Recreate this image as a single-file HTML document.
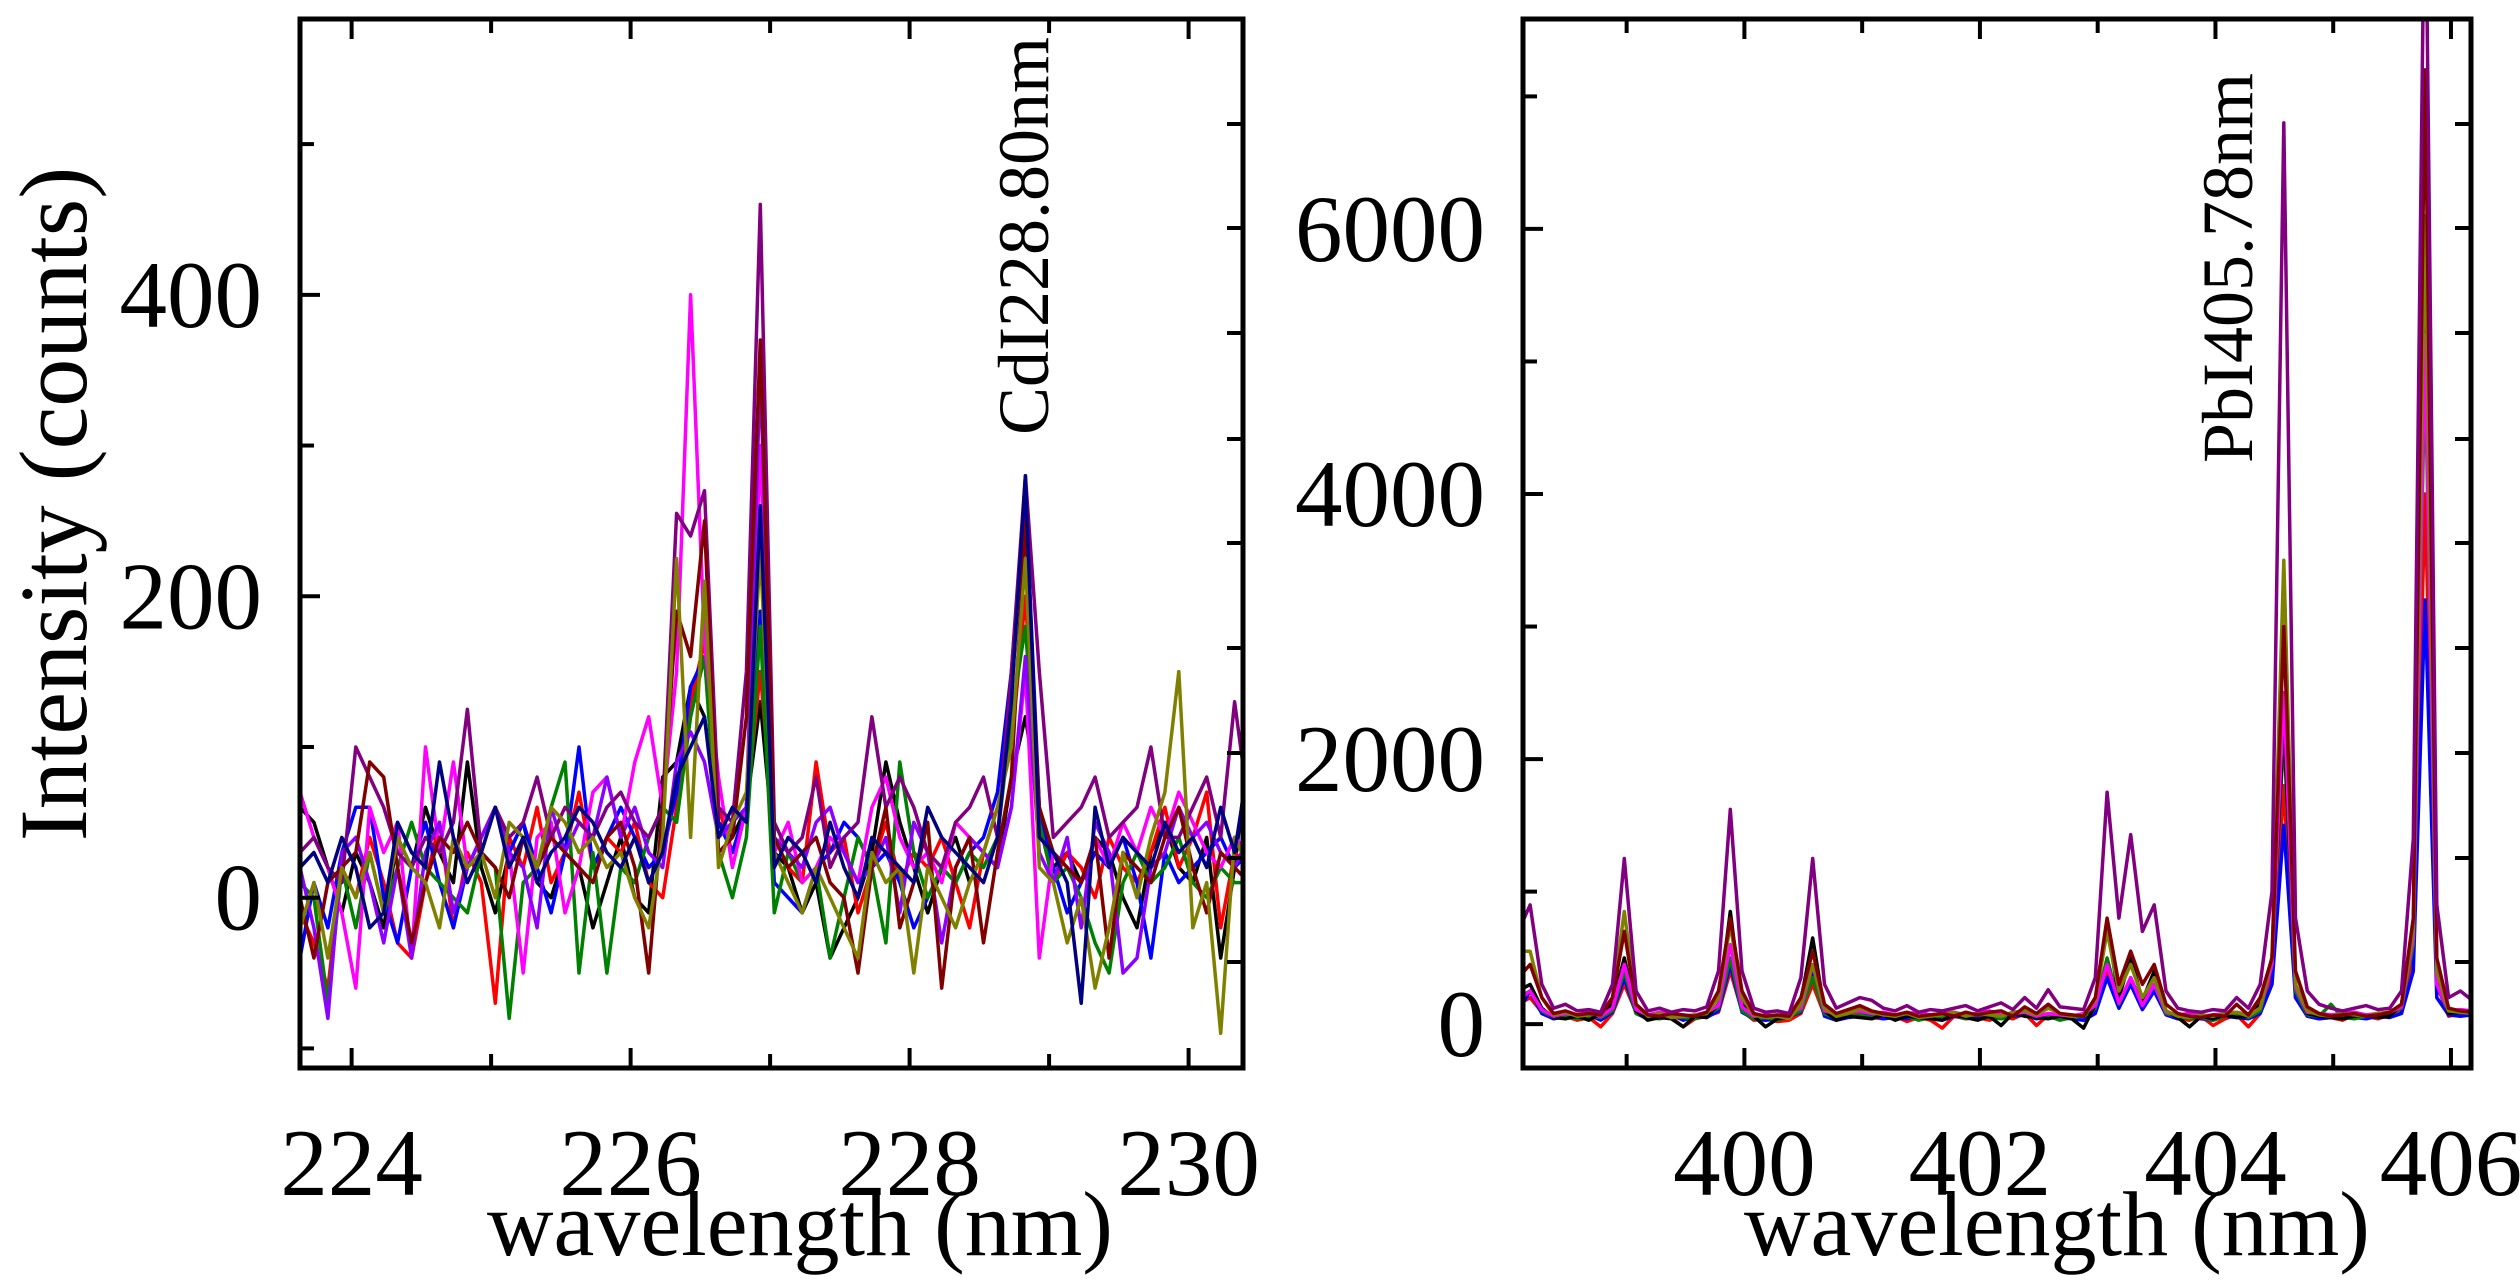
<!DOCTYPE html>
<html><head><meta charset="utf-8"><style>
html,body{margin:0;padding:0;background:#fff}
svg{display:block}
text{font-family:"Liberation Serif",serif;fill:#000}
</style></head><body>
<svg id="chart" width="2520" height="1288" viewBox="0 0 2520 1288"></svg>
<script>
// ---------- Left panel data (Cd region) ----------
const leftXStart = 223.63, leftXStep = 0.1;
const leftXTicks = [224, 226, 228, 230];
const leftYTicks = [0, 200, 400];
const leftColors = ['#000000','#ff0000','#0000ff','#008000','#ff00ff','#8b00ff','#800080','#800000','#808000','#000080'];
const leftBlack  = [60,50,20,-10,30,10,-20,40,20,60,30,10,90,20,-10,30,50,10,0,30,20,-20,10,40,0,-10,80,90,140,120,50,40,60,130,30,20,-10,10,-40,-20,0,30,90,50,20,-10,20,40,10,30,20,80,120,60,20,30,10,40,30,0,-20,30,50,20,10,40,-40,20,100];
const leftRed    = [-10,-30,-60,20,0,40,10,-30,-40,10,50,-20,30,10,-70,40,20,60,10,30,70,20,40,30,50,10,0,60,130,170,60,30,60,150,40,20,10,90,30,40,-10,20,50,10,30,20,40,10,-20,30,60,100,200,50,10,30,20,0,40,20,10,30,60,20,40,70,-20,30,20];
const leftBlue   = [-40,10,-20,30,60,60,0,-30,20,50,10,-20,20,40,60,30,50,20,-10,30,100,20,40,60,40,20,30,70,140,160,50,30,60,190,10,0,-10,20,30,50,40,20,30,10,-20,0,20,10,30,40,70,150,270,60,20,-10,10,30,20,40,10,-40,30,10,20,30,40,20,30];
const leftGreen  = [10,0,-70,20,-20,30,-10,20,50,20,10,0,-10,30,20,-80,10,20,60,90,-50,30,-50,20,10,40,60,50,120,160,30,0,40,180,-10,30,10,20,-40,0,40,20,-30,90,30,0,20,10,30,20,40,120,180,50,10,20,0,-30,-50,10,30,10,20,40,10,0,20,10,10];
const leftMagenta= [70,40,20,-10,-60,60,30,50,-40,100,30,90,20,40,60,30,-50,40,50,-10,20,70,80,40,90,120,60,150,400,170,80,20,60,300,30,50,10,20,40,30,10,60,80,40,20,30,10,50,40,30,20,60,150,-40,30,20,10,40,20,50,30,60,40,70,50,30,20,40,30];
const leftViolet = [20,-20,-80,30,40,10,-30,20,-40,30,50,-10,20,40,60,30,20,-20,60,30,50,40,80,40,60,30,20,90,110,90,40,50,60,350,40,30,20,50,60,30,10,20,40,-10,50,30,-30,20,40,30,20,60,160,30,10,40,-20,50,30,-50,-40,20,30,60,40,50,30,20,40];
const leftPurple = [30,40,20,10,100,80,60,30,20,40,30,50,125,30,60,40,50,80,40,60,50,40,60,70,50,40,60,255,240,270,60,50,150,460,50,30,40,80,20,40,50,120,60,80,60,30,20,50,60,80,40,150,280,150,40,50,60,80,40,50,60,100,40,40,60,80,40,130,60];
const leftMaroon = [0,-40,10,20,30,90,80,20,-30,10,40,30,50,30,20,0,40,20,40,30,20,10,40,50,20,-50,60,190,160,250,30,40,120,370,40,20,30,40,10,0,-50,20,60,-20,10,50,-60,20,40,-30,30,80,250,60,30,20,10,40,-40,30,20,10,40,60,20,-10,30,20,10];
const leftOlive  = [-20,10,-40,20,0,30,-10,40,20,10,-20,40,20,30,0,50,40,20,60,50,30,40,20,30,0,-20,40,225,40,210,20,50,70,230,30,10,-10,20,0,-20,-40,30,10,20,-50,20,0,-20,10,30,60,100,225,20,10,-30,0,-60,-20,30,0,40,70,150,-20,10,-90,40,20];
const leftNavy   = [20,30,10,40,20,-20,-10,50,30,20,90,40,10,30,60,20,40,10,30,40,60,50,30,20,40,10,30,80,100,120,40,60,50,260,20,40,30,10,50,20,0,40,30,20,10,60,40,30,20,10,40,130,280,40,30,10,-70,60,20,40,30,20,50,30,40,20,60,30,90];
const leftSeries = [leftBlack,leftRed,leftBlue,leftGreen,leftMagenta,leftViolet,leftPurple,leftMaroon,leftOlive,leftNavy];

// ---------- Right panel data (Pb region) ----------
const rightXStart = 398.08, rightXStep = 0.1;
const rightXTicks = [400, 402, 404, 406];
const rightYTicks = [0, 2000, 4000, 6000];
const rightColors = ['#ff0000','#0000ff','#008000','#000000','#ff00ff','#808000','#800000','#800080'];
const rightRed    = [150,200,90,40,60,30,50,-20,80,300,90,40,60,50,-20,40,60,90,400,100,30,40,20,30,80,300,70,30,60,80,50,40,60,20,50,30,-30,60,40,50,30,60,40,80,-10,70,40,50,30,90,400,150,300,120,250,80,40,30,60,-10,40,70,-20,80,350,1800,200,60,40,50,30,70,60,40,70,90,500,4000,300,60,80,60];
const rightBlue   = [100,250,80,40,60,50,70,30,90,350,80,40,50,70,30,60,50,100,450,90,40,30,40,60,90,400,60,30,50,60,70,40,50,40,60,50,30,60,50,40,60,50,60,70,40,60,50,40,30,80,350,120,300,110,250,70,40,50,40,30,60,50,40,80,300,1500,200,60,40,50,60,50,40,60,50,80,400,3200,200,70,60,70];
const rightGreen  = [200,250,100,50,60,40,60,50,100,400,80,50,40,60,50,40,70,120,500,100,40,50,30,60,100,350,80,40,60,70,50,90,40,60,30,50,60,70,40,80,50,40,60,100,50,60,30,50,60,120,500,150,350,150,300,80,60,40,50,30,60,70,50,100,450,2200,250,70,60,150,50,40,60,80,70,120,600,5000,300,80,90,80];
const rightBlack  = [250,300,120,50,40,60,30,80,150,500,100,30,50,40,-20,60,50,150,850,150,60,-20,40,50,180,650,100,30,60,50,40,70,30,60,50,40,30,70,50,30,60,-10,80,60,50,40,60,40,-30,150,750,200,500,180,400,100,50,-20,60,40,70,50,60,150,500,2300,300,80,60,50,40,60,70,50,60,150,700,5500,350,80,90,80];
const rightMagenta= [180,250,110,60,80,70,90,60,120,450,110,70,90,80,60,70,90,140,600,130,60,70,60,80,120,450,100,80,90,100,80,90,70,80,90,70,80,90,70,80,100,70,80,90,60,80,70,60,80,140,450,160,350,140,300,90,70,80,60,70,80,90,70,120,450,2500,280,90,80,70,80,90,70,80,90,130,650,5200,300,100,110,100];
const rightOlive  = [550,550,200,70,90,60,70,80,200,850,150,60,80,50,60,70,80,200,750,200,70,50,60,40,150,450,120,60,80,120,90,70,60,80,50,60,70,90,60,80,70,60,90,100,70,120,80,60,70,180,700,250,450,200,350,100,60,50,70,60,80,90,60,120,500,3500,300,100,70,60,80,70,60,80,90,150,700,6100,400,100,90,80];
const rightMaroon = [350,450,200,80,100,70,80,70,200,700,150,70,60,80,70,60,90,250,800,250,80,60,70,60,200,550,150,80,110,140,100,80,70,90,60,70,80,60,90,70,90,100,60,130,80,150,80,70,60,200,800,300,550,300,450,150,80,60,50,70,60,150,70,200,500,3000,400,130,80,60,70,80,60,70,90,150,800,7200,500,120,100,90];
const rightPurple = [700,900,300,120,150,100,110,90,300,1250,250,100,120,90,110,100,130,400,1620,400,120,90,100,80,350,1250,300,120,160,200,180,120,100,140,90,110,100,120,140,100,130,160,110,200,120,260,130,120,110,350,1750,800,1430,700,900,250,120,100,90,110,100,200,120,300,1000,6800,800,250,150,120,100,120,140,110,120,250,1400,9000,900,200,250,180];
const rightSeries = [rightRed,rightBlue,rightGreen,rightBlack,rightMagenta,rightOlive,rightMaroon,rightPurple];
const rightSideTickPx = [124,228,333,439,543,648,753,858,962];

// ---------- rendering ----------
const NS = 'http://www.w3.org/2000/svg';
const svg = document.getElementById('chart');
function mk(tag, attrs, parent){ const e=document.createElementNS(NS,tag); for(const k in attrs) e.setAttribute(k,attrs[k]); (parent||svg).appendChild(e); return e; }

function panel(cfg){
  const g = mk('g',{});
  
  
  const sx = v => cfg.px0 + (v - cfg.xmin) / (cfg.xmax - cfg.xmin) * (cfg.px1 - cfg.px0);
  const sy = v => cfg.py1 - (v - cfg.ymin) / (cfg.ymax - cfg.ymin) * (cfg.py1 - cfg.py0);
  const cid = cfg.name + '-clip';
  const cp = mk('clipPath',{id:cid}, g);
  mk('rect',{x:cfg.px0,y:cfg.py0,width:cfg.px1-cfg.px0,height:cfg.py1-cfg.py0},cp);
  const lines = mk('g',{'clip-path':'url(#'+cid+')'}, g);
  cfg.series.forEach((vals, si) => {
    const pts = vals.map((v,i)=> sx(cfg.xStart + i*cfg.xStep).toFixed(1)+','+sy(v).toFixed(1)).join(' ');
    const pl = mk('polyline',{points:pts,fill:'none',stroke:cfg.colors[si],'stroke-width':3.5,'stroke-linejoin':'round'}, lines);
    
    
  });
  for(let t=Math.ceil(cfg.xmin); t<=cfg.xmax; t++){
    const x=sx(t); const major = cfg.xTicks.includes(t);
    const L = major?20:14;
    mk('line',{x1:x,y1:cfg.py1,x2:x,y2:cfg.py1-L,stroke:'#000','stroke-width':4}, g);
    mk('line',{x1:x,y1:cfg.py0,x2:x,y2:cfg.py0+L,stroke:'#000','stroke-width':4}, g);
  }
  cfg.xTicks.forEach(t=>{
    const tx = mk('text',{x:sx(t),y:1195,'text-anchor':'middle','font-size':95}, g);
    tx.textContent = t;
    
    
  });
  for(let v=Math.ceil(cfg.ymin/cfg.yMinor)*cfg.yMinor; v<=cfg.ymax; v+=cfg.yMinor){
    const y=sy(v); const major = cfg.yTicks.includes(v);
    mk('line',{x1:cfg.px0,y1:y,x2:cfg.px0+(major?20:14),y2:y,stroke:'#000','stroke-width':4}, g);
  }
  cfg.yTicks.forEach(t=>{
    const tx = mk('text',{x:cfg.px0-38,y:sy(t)+32,'text-anchor':'end','font-size':95}, g);
    tx.textContent = t;
    
    
  });
  rightSideTickPx.forEach(y=>{
    mk('line',{x1:cfg.px1,y1:y,x2:cfg.px1-16,y2:y,stroke:'#000','stroke-width':4}, g);
  });
  const fr = mk('rect',{x:cfg.px0,y:cfg.py0,width:cfg.px1-cfg.px0,height:cfg.py1-cfg.py0,fill:'none',stroke:'#000','stroke-width':5}, g);
  
  
  const xt = mk('text',{x:cfg.titleX,y:1255,'text-anchor':'middle','font-size':92}, g);
  xt.textContent = 'wavelength (nm)';
  
  
  const an = mk('text',{x:0,y:0,'text-anchor':'middle','font-size':72,transform:'translate('+cfg.annX+','+cfg.annY+') rotate(-90)'}, g);
  an.textContent = cfg.ann;
  
  
}

panel({name:'cd-panel', px0:300, px1:1243, py0:19, py1:1068, xmin:223.63, xmax:230.39, ymin:-113, ymax:583,
  xStart:leftXStart, xStep:leftXStep, series:leftSeries, colors:leftColors, xTicks:leftXTicks, yTicks:leftYTicks, yMinor:100,
  titleX:800, ann:'CdI228.80nm', annX:1048, annY:236});
panel({name:'pb-panel', px0:1523, px1:2471, py0:19, py1:1068, xmin:398.12, xmax:406.17, ymin:-331, ymax:7584,
  xStart:rightXStart, xStep:rightXStep, series:rightSeries, colors:rightColors, xTicks:rightXTicks, yTicks:rightYTicks, yMinor:1000,
  titleX:2057, ann:'PbI405.78nm', annX:2252, annY:268});

const yt = mk('text',{x:0,y:0,'text-anchor':'middle','font-size':96,transform:'translate(86,504) rotate(-90)'});
yt.textContent = 'Intensity (counts)';


</script>
</body></html>
